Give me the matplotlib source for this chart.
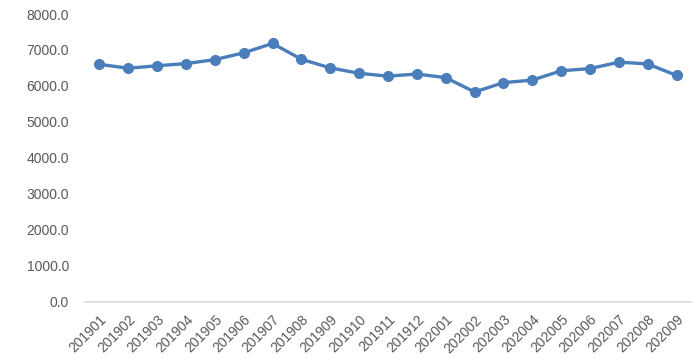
import numpy as np
import matplotlib.pyplot as plt
import matplotlib.transforms as mtransforms

plt.rcParams["font.family"] = ["Liberation Sans", "DejaVu Sans"]

months = ["201901", "201902", "201903", "201904", "201905", "201906", "201907",
          "201908", "201909", "201910", "201911", "201912", "202001", "202002",
          "202003", "202004", "202005", "202006", "202007", "202008", "202009"]
values = [6600, 6490, 6560, 6620, 6730, 6920, 7180, 6740, 6500, 6350, 6270,
          6330, 6230, 5830, 6090, 6160, 6420, 6480, 6660, 6610, 6290]

fig = plt.figure(figsize=(7, 3.64), dpi=100)
ax = fig.add_axes([85 / 700, 1 - 301.5 / 364, 606 / 700, 287.5 / 364])

x = np.arange(len(months))
ax.plot(x, values, color="#4a7ebb", linewidth=2.4, marker="o", markersize=7,
        solid_capstyle="round", solid_joinstyle="round")

ax.set_xlim(-0.5, len(months) - 0.5)
ax.set_ylim(0, 8000)
ax.set_yticks(np.arange(0, 8001, 1000))
ax.set_yticklabels(["{:.1f}".format(v) for v in np.arange(0, 8001, 1000)])
ax.set_xticks(x)
ax.set_xticklabels(months, rotation=45, ha="right", rotation_mode="anchor")

# nudge x labels a little to the right, like the original
shift = mtransforms.ScaledTranslation(4 / 100, 0, fig.dpi_scale_trans)
for lab in ax.get_xticklabels():
    lab.set_transform(lab.get_transform() + shift)

for s in ["top", "right", "left"]:
    ax.spines[s].set_visible(False)
ax.spines["bottom"].set_color("#d9d9d9")
ax.spines["bottom"].set_linewidth(1.2)
ax.tick_params(axis="both", length=0, colors="#595959", labelsize=10)
ax.tick_params(axis="y", pad=11.5)
ax.tick_params(axis="x", pad=8)

fig.savefig("out.png", dpi=100)
plt.close()
